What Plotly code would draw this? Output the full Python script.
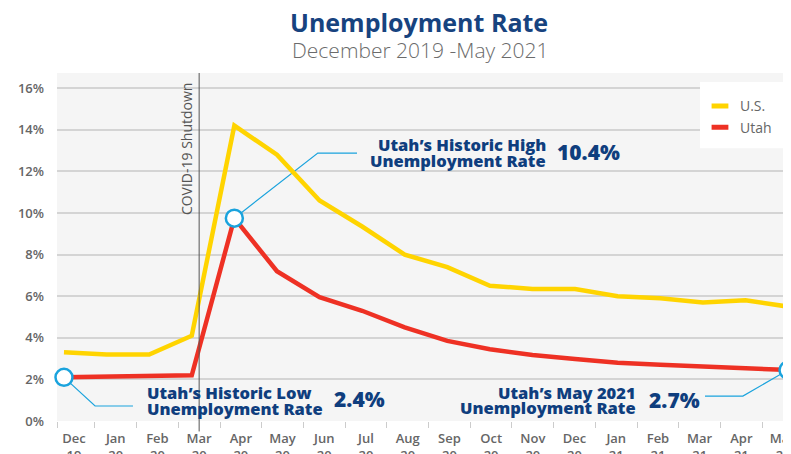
import plotly.graph_objects as go

months = ["Dec<br>19", "Jan<br>20", "Feb<br>20", "Mar<br>20", "Apr<br>20", "May<br>20",
          "Jun<br>20", "Jul<br>20", "Aug<br>20", "Sep<br>20", "Oct<br>20", "Nov<br>20",
          "Dec<br>20", "Jan<br>21", "Feb<br>21", "Mar<br>21", "Apr<br>21", "May<br>21"]
us_rate = [3.3, 3.2, 3.2, 4.1, 14.2, 12.8, 10.6, 9.35, 8.0, 7.4, 6.5, 6.35, 6.35, 6.0, 5.9, 5.7, 5.8, 5.5]
utah_rate = [2.1, 2.15, 2.2, 2.2, 9.75, 7.2, 5.95, 5.3, 4.5, 3.85, 3.45, 3.17, 2.98, 2.8, 2.7, 2.6, 2.52, 2.45]
y_ticks = [0, 2, 4, 6, 8, 10, 12, 14, 16]
highlight_idx = [0, 4, 17]

YELLOW = "#ffd400"
RED = "#ee3124"
BLUE_TXT = "#0f3e7e"
LEADER = "#1aa3dd"
FONT = "Open Sans"

x_idx = list(range(len(months)))

fig = go.Figure()
fig.add_trace(go.Scatter(x=x_idx, y=us_rate, mode="lines", line=dict(color=YELLOW, width=4.5),
                         showlegend=False, hoverinfo="skip"))
fig.add_trace(go.Scatter(x=x_idx, y=utah_rate, mode="lines", line=dict(color=RED, width=4.5),
                         showlegend=False, hoverinfo="skip"))
fig.add_trace(go.Scatter(x=highlight_idx, y=[utah_rate[i] for i in highlight_idx], mode="markers",
                         marker=dict(size=17, color="white", line=dict(color=LEADER, width=2.5)),
                         showlegend=False, cliponaxis=False, hoverinfo="skip"))
# legend entries
fig.add_trace(go.Scatter(x=[None], y=[None], mode="markers", name="U.S.",
                         marker=dict(symbol="line-ew", size=12, line=dict(color=YELLOW, width=5))))
fig.add_trace(go.Scatter(x=[None], y=[None], mode="markers", name="Utah",
                         marker=dict(symbol="line-ew", size=12, line=dict(color=RED, width=5))))
# label axis carrier
fig.add_trace(go.Scatter(x=[0], y=[None], xaxis="x2", showlegend=False, hoverinfo="skip"))

shapes = []
# COVID line
shapes.append(dict(type="line", xref="x2", yref="paper", x0=3, x1=3, y0=-0.03, y1=1,
                   line=dict(color="#555555", width=1)))
# leader lines
hx, hy = highlight_idx[1], utah_rate[highlight_idx[1]]
shapes.append(dict(type="path", xref="x", yref="y", layer="between",
                   path=f"M {hx},{hy} L {hx+1.96},12.88 L {hx+2.88},12.88",
                   line=dict(color=LEADER, width=1.2)))
lx, ly = highlight_idx[0], utah_rate[highlight_idx[0]]
shapes.append(dict(type="path", xref="x", yref="y", layer="between",
                   path=f"M {lx},{ly} L {lx+0.73},0.72 L {lx+1.62},0.72",
                   line=dict(color=LEADER, width=1.2)))
mx, my = highlight_idx[2], utah_rate[highlight_idx[2]]
shapes.append(dict(type="path", xref="x", yref="y", layer="between",
                   path=f"M {mx},{my} L {mx-1.06},1.2 L {mx-1.95},1.2",
                   line=dict(color=LEADER, width=1.2)))
# legend box
shapes.append(dict(type="rect", xref="paper", yref="paper", x0=0.876, x1=1.02, y0=0.784, y1=0.974,
                   fillcolor="white", line=dict(width=0), layer="above"))

ann = []
ann.append(dict(text="<b>Unemployment Rate</b>", xref="paper", yref="paper", x=0.493, y=1.1466,
                yanchor="middle", showarrow=False,
                font=dict(family=FONT, size=25, color="#17437f", weight=800)))
ann.append(dict(text="December 2019 -May 2021", xref="paper", yref="paper", x=0.495, y=1.066,
                yanchor="middle", showarrow=False,
                font=dict(family=FONT, size=21, color="#6b6b6b", weight=300)))
ann.append(dict(text="COVID-19 Shutdown", xref="x2", yref="paper", x=3, y=0.98, xanchor="right",
                yanchor="top", xshift=-1, textangle=-90, showarrow=False,
                font=dict(family=FONT, size=14, color="#555555")))
tfont = dict(family=FONT, size=16.5, color=BLUE_TXT, weight=800)
pfont = dict(family=FONT, size=21, color=BLUE_TXT, weight=800)
ann.append(dict(text="Utah’s Historic High", x=11.36, y=13.27, xanchor="right", yanchor="middle",
                showarrow=False, font=tfont))
ann.append(dict(text="Unemployment Rate", x=11.36, y=12.5, xanchor="right", yanchor="middle",
                showarrow=False, font=tfont))
ann.append(dict(text="10.4%", x=11.53, y=12.93, xanchor="left", yanchor="middle", showarrow=False, font=pfont))
ann.append(dict(text="Utah’s Historic Low", x=1.90, y=1.39, xanchor="left", yanchor="middle",
                showarrow=False, font=tfont))
ann.append(dict(text="Unemployment Rate", x=1.90, y=0.625, xanchor="left", yanchor="middle",
                showarrow=False, font=tfont))
ann.append(dict(text="2.4%", x=6.29, y=1.06, xanchor="left", yanchor="middle", showarrow=False, font=pfont))
ann.append(dict(text="Utah’s May 2021", x=13.47, y=1.39, xanchor="right", yanchor="middle",
                showarrow=False, font=tfont))
ann.append(dict(text="Unemployment Rate", x=13.47, y=0.67, xanchor="right", yanchor="middle",
                showarrow=False, font=tfont))
ann.append(dict(text="2.7%", x=13.69, y=1.0, xanchor="left", yanchor="middle", showarrow=False, font=pfont))

fig.update_layout(
    width=783, height=446,
    margin=dict(l=49, r=0, t=65, b=33, autoexpand=False),
    paper_bgcolor="white", plot_bgcolor="#f5f5f5",
    font=dict(family=FONT, color="#666666"),
    shapes=shapes, annotations=ann,
    legend=dict(x=0.876, y=0.95, xanchor="left", yanchor="top", bgcolor="rgba(0,0,0,0)",
                font=dict(family=FONT, size=14, color="#666666"), tracegroupgap=0),
    xaxis=dict(range=[-0.164, 17.07], visible=False, fixedrange=True, automargin=False),
    xaxis2=dict(overlaying="x", anchor="y", side="bottom", range=[-0.408, 17.19],
                tickmode="array", tickvals=x_idx, ticktext=months, ticks="", showgrid=False,
                tickfont=dict(family=FONT, size=13, color="#666666", weight=600),
                showline=False, zeroline=False, ticklabelstandoff=8, automargin=False,
                ticklabeloverflow="allow",
                minor=dict(tickmode="array", tickvals=[-0.4] + [i + 0.5 for i in range(17)],
                           ticks="outside", ticklen=6, tickcolor="#cccccc", tickwidth=1, showgrid=False)),
    yaxis=dict(range=[0, 16.73], tickvals=y_ticks, ticktext=[f"{v}%" for v in y_ticks],
               showgrid=True, gridcolor="#d4d4d4", gridwidth=1.5, zeroline=False, automargin=False,
               tickfont=dict(family=FONT, size=13, color="#666666", weight=600),
               ticks="", ticklabelstandoff=12, showline=False),
)

fig.write_html("out.html")
